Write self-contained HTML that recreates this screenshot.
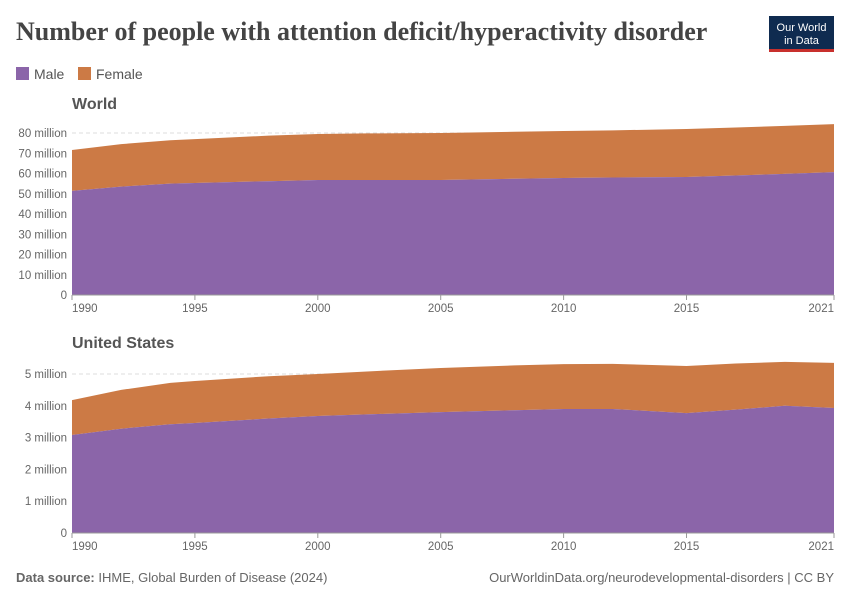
<!DOCTYPE html>
<html><head><meta charset="utf-8">
<style>
body{margin:0;background:#fff;width:850px;height:600px;overflow:hidden;font-family:"Liberation Sans",sans-serif;}
</style></head>
<body>
<svg id="chart" width="850" height="600" xmlns="http://www.w3.org/2000/svg">
<text x="16" y="40" font-family="Liberation Serif,serif" font-size="26" font-weight="bold" fill="#444">Number of people with attention deficit/hyperactivity disorder</text>
<g>
<rect x="769" y="16" width="65" height="34" fill="#0f2b50"/>
<rect x="769" y="49" width="65" height="3" fill="#c8302d"/>
<text x="801.5" y="31" text-anchor="middle" fill="#fff" font-size="11">Our World</text>
<text x="801.5" y="44" text-anchor="middle" fill="#fff" font-size="11">in Data</text>
</g>
<g>
<rect x="16" y="67" width="13" height="13" fill="#8b65a9"/>
<text x="34" y="79" font-size="14" fill="#555">Male</text>
<rect x="78" y="67" width="13" height="13" fill="#cc7a45"/>
<text x="96" y="79" font-size="14" fill="#555">Female</text>
</g>
<g id="panels"></g>
<text x="16" y="582" font-size="13" fill="#666"><tspan font-weight="bold">Data source:</tspan> IHME, Global Burden of Disease (2024)</text>
<text x="834" y="582" text-anchor="end" font-size="13" fill="#666">OurWorldinData.org/neurodevelopmental-disorders | CC BY</text>
</svg>
<script>
const years=[1990,1992,1994,1995,1998,2000,2002,2005,2008,2010,2012,2015,2017,2019,2021];
const worldMale=[51.4,53.5,55,55.3,56.2,56.8,56.8,56.8,57.4,57.8,58,58.3,59,59.8,60.7];
const worldTotal=[71.6,74.5,76.4,77,78.7,79.5,79.8,80,80.6,81,81.3,82,82.7,83.5,84.4];
const usMale=[3.08,3.28,3.42,3.46,3.6,3.68,3.73,3.8,3.86,3.9,3.9,3.77,3.88,4.0,3.93];
const usTotal=[4.18,4.5,4.72,4.78,4.93,5.0,5.08,5.19,5.27,5.31,5.32,5.25,5.33,5.38,5.35];
const worldTicks=[0,10,20,30,40,50,60,70,80];
const worldTickLabels=["0","10 million","20 million","30 million","40 million","50 million","60 million","70 million","80 million"];
const usTicks=[0,1,2,3,4,5];
const usTickLabels=["0","1 million","2 million","3 million","4 million","5 million"];
const xTicks=[1990,1995,2000,2005,2010,2015,2021];
const NS="http://www.w3.org/2000/svg";
const root=document.getElementById('panels');
function mk(tag,attrs,parent){const e=document.createElementNS(NS,tag);for(const k in attrs)e.setAttribute(k,attrs[k]);parent.appendChild(e);return e;}
function panel(name,title,titleY,y0,yTop,maxV,ticks,labels,male,total){
  const g=mk('g',{},root);
  
  
  const x=v=>72+(v-1990)/(2021-1990)*(834-72);
  const y=v=>y0-v/maxV*(y0-yTop);
  const t=mk('text',{x:72,y:titleY,'font-size':16,'font-weight':'bold',fill:'#555'},g);t.textContent=title;
  
  
  ticks.forEach((v,i)=>{
    if(v>0){const l=mk('line',{x1:72,x2:834,y1:y(v),y2:y(v),stroke:'#ddd','stroke-dasharray':'4,3'},g);
    
    }
    const tt=mk('text',{x:67,y:y(v)+4,'text-anchor':'end','font-size':11.5,fill:'#666'},g);tt.textContent=labels[i];
    
    
  });
  let top=years.map((yr,i)=>x(yr)+','+y(total[i])).join(' L');
  let mid=years.map((yr,i)=>x(yr)+','+y(male[i]));
  const fem=mk('path',{d:'M'+top+' L'+mid.slice().reverse().join(' L')+'Z',fill:'#cc7a45'},g);
  
  
  const ma=mk('path',{d:'M'+mid.join(' L')+' L'+x(2021)+','+y0+' L'+x(1990)+','+y0+'Z',fill:'#8b65a9'},g);
  
  
  const ax=mk('line',{x1:72,x2:834,y1:y0,y2:y0,stroke:'#999'},g);
  
  
  xTicks.forEach(v=>{
    const tl=mk('line',{x1:x(v),x2:x(v),y1:y0,y2:y0+5,stroke:'#999'},g);
    
    
    const tt=mk('text',{x:x(v),y:y0+17,'text-anchor':v===1990?'start':(v===2021?'end':'middle'),'font-size':11.5,fill:'#666'},g);tt.textContent=v;
    
    
  });
}
panel('world','World',109,295,133,80,worldTicks,worldTickLabels,worldMale,worldTotal);
panel('united-states','United States',348,533,374,5,usTicks,usTickLabels,usMale,usTotal);
</script>
</body></html>
